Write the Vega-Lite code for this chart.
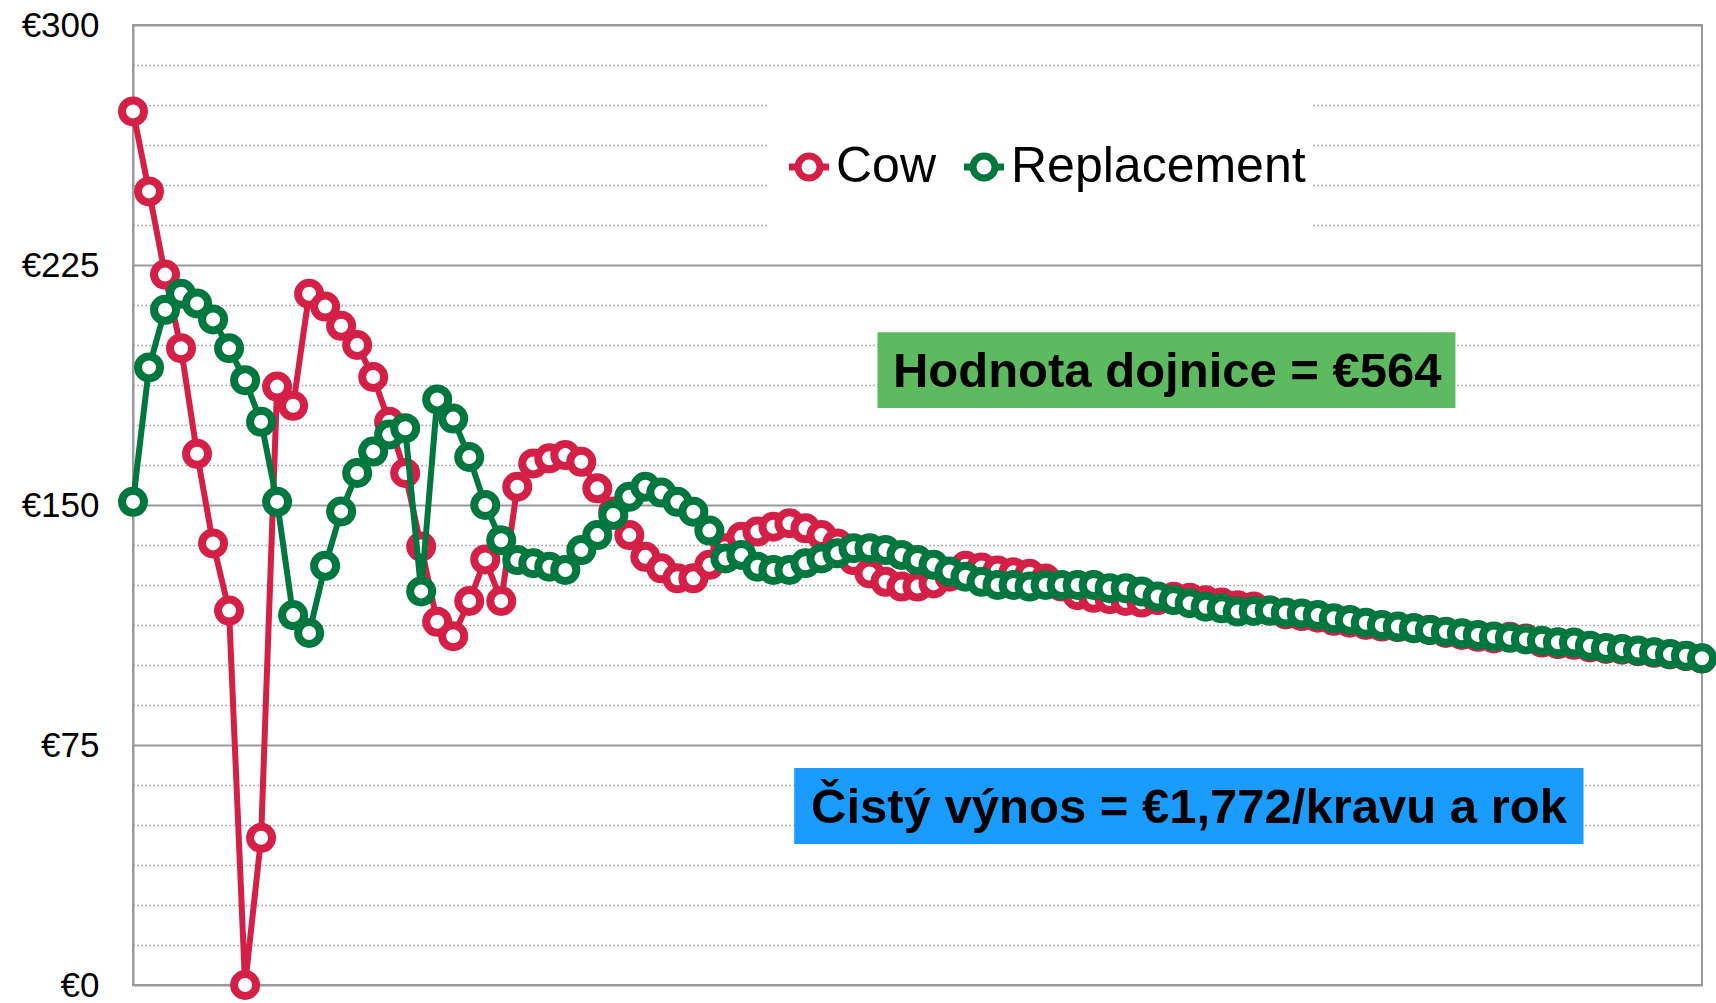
{
  "$schema": "https://vega.github.io/schema/vega-lite/v6.json",
  "width": 1569,
  "height": 960,
  "autosize": {"type": "none"},
  "padding": {"left": 133, "top": 25, "right": 14, "bottom": 18},
  "background": "white",
  "config": {
    "view": {"stroke": "#9a9a9a", "strokeWidth": 2},
    "font": "Liberation Sans"
  },
  "data": {
    "values": [
      {"m": 0, "Cow": 273, "Replacement": 151},
      {"m": 1, "Cow": 248, "Replacement": 193},
      {"m": 2, "Cow": 222, "Replacement": 211},
      {"m": 3, "Cow": 199, "Replacement": 216},
      {"m": 4, "Cow": 166, "Replacement": 213},
      {"m": 5, "Cow": 138, "Replacement": 208},
      {"m": 6, "Cow": 117, "Replacement": 199},
      {"m": 7, "Cow": 0, "Replacement": 189},
      {"m": 8, "Cow": 46, "Replacement": 176},
      {"m": 9, "Cow": 187, "Replacement": 151},
      {"m": 10, "Cow": 181, "Replacement": 115.6},
      {"m": 11, "Cow": 216, "Replacement": 110},
      {"m": 12, "Cow": 212, "Replacement": 131},
      {"m": 13, "Cow": 206, "Replacement": 148},
      {"m": 14, "Cow": 200, "Replacement": 160},
      {"m": 15, "Cow": 190, "Replacement": 166.7},
      {"m": 16, "Cow": 176, "Replacement": 172},
      {"m": 17, "Cow": 160, "Replacement": 174},
      {"m": 18, "Cow": 137, "Replacement": 123},
      {"m": 19, "Cow": 113.5, "Replacement": 183},
      {"m": 20, "Cow": 109, "Replacement": 177},
      {"m": 21, "Cow": 120, "Replacement": 165},
      {"m": 22, "Cow": 133, "Replacement": 150},
      {"m": 23, "Cow": 120, "Replacement": 139},
      {"m": 24, "Cow": 155.7, "Replacement": 132.8},
      {"m": 25, "Cow": 163, "Replacement": 131.8},
      {"m": 26, "Cow": 164.6, "Replacement": 130.7},
      {"m": 27, "Cow": 165.6, "Replacement": 129.7},
      {"m": 28, "Cow": 163.5, "Replacement": 135.9},
      {"m": 29, "Cow": 155.2, "Replacement": 140.6},
      {"m": 30, "Cow": 148, "Replacement": 146.9},
      {"m": 31, "Cow": 140.6, "Replacement": 152.6},
      {"m": 32, "Cow": 133.8, "Replacement": 155.7},
      {"m": 33, "Cow": 130.2, "Replacement": 153.9},
      {"m": 34, "Cow": 127.1, "Replacement": 151},
      {"m": 35, "Cow": 127.1, "Replacement": 147.9},
      {"m": 36, "Cow": 131.3, "Replacement": 142},
      {"m": 37, "Cow": 136.5, "Replacement": 133.3},
      {"m": 38, "Cow": 140.1, "Replacement": 134.4},
      {"m": 39, "Cow": 141.7, "Replacement": 130.7},
      {"m": 40, "Cow": 143.2, "Replacement": 129.7},
      {"m": 41, "Cow": 144.3, "Replacement": 129.7},
      {"m": 42, "Cow": 142.7, "Replacement": 131.8},
      {"m": 43, "Cow": 140.6, "Replacement": 133.3},
      {"m": 44, "Cow": 138, "Replacement": 134.9},
      {"m": 45, "Cow": 132.8, "Replacement": 136.5},
      {"m": 46, "Cow": 128.6, "Replacement": 136.5},
      {"m": 47, "Cow": 126, "Replacement": 135.9},
      {"m": 48, "Cow": 124.5, "Replacement": 134.4},
      {"m": 49, "Cow": 124.5, "Replacement": 132.8},
      {"m": 50, "Cow": 125.5, "Replacement": 131.3},
      {"m": 51, "Cow": 127.6, "Replacement": 129.2},
      {"m": 52, "Cow": 131, "Replacement": 127.6},
      {"m": 53, "Cow": 130.5, "Replacement": 126},
      {"m": 54, "Cow": 129.5, "Replacement": 125},
      {"m": 55, "Cow": 129, "Replacement": 125},
      {"m": 56, "Cow": 128.5, "Replacement": 124.5},
      {"m": 57, "Cow": 127, "Replacement": 125},
      {"m": 58, "Cow": 124.5, "Replacement": 125},
      {"m": 59, "Cow": 121.8, "Replacement": 125},
      {"m": 60, "Cow": 121, "Replacement": 125},
      {"m": 61, "Cow": 120.6, "Replacement": 124},
      {"m": 62, "Cow": 120, "Replacement": 124},
      {"m": 63, "Cow": 119.5, "Replacement": 123},
      {"m": 64, "Cow": 120.3, "Replacement": 121.4},
      {"m": 65, "Cow": 121.3, "Replacement": 120.3},
      {"m": 66, "Cow": 121, "Replacement": 119.3},
      {"m": 67, "Cow": 120.2, "Replacement": 118.2},
      {"m": 68, "Cow": 119.5, "Replacement": 117.7},
      {"m": 69, "Cow": 118.7, "Replacement": 116.7},
      {"m": 70, "Cow": 118.3, "Replacement": 116.9},
      {"m": 71, "Cow": 117, "Replacement": 117},
      {"m": 72, "Cow": 115.8, "Replacement": 116.4},
      {"m": 73, "Cow": 115.3, "Replacement": 116.1},
      {"m": 74, "Cow": 114.8, "Replacement": 115.6},
      {"m": 75, "Cow": 113.8, "Replacement": 114.6},
      {"m": 76, "Cow": 113.2, "Replacement": 114.1},
      {"m": 77, "Cow": 112.5, "Replacement": 113.2},
      {"m": 78, "Cow": 112, "Replacement": 112.5},
      {"m": 79, "Cow": 111.8, "Replacement": 112},
      {"m": 80, "Cow": 111.5, "Replacement": 111.5},
      {"m": 81, "Cow": 111, "Replacement": 110.9},
      {"m": 82, "Cow": 110, "Replacement": 110.4},
      {"m": 83, "Cow": 109.4, "Replacement": 109.9},
      {"m": 84, "Cow": 108.8, "Replacement": 109.4},
      {"m": 85, "Cow": 108.3, "Replacement": 108.9},
      {"m": 86, "Cow": 108.8, "Replacement": 108.5},
      {"m": 87, "Cow": 108.3, "Replacement": 108},
      {"m": 88, "Cow": 107, "Replacement": 107.6},
      {"m": 89, "Cow": 106.5, "Replacement": 107.1},
      {"m": 90, "Cow": 106.3, "Replacement": 107},
      {"m": 91, "Cow": 105.5, "Replacement": 106},
      {"m": 92, "Cow": 105, "Replacement": 105.3},
      {"m": 93, "Cow": 104.8, "Replacement": 105},
      {"m": 94, "Cow": 104.3, "Replacement": 104.5},
      {"m": 95, "Cow": 103.8, "Replacement": 104},
      {"m": 96, "Cow": 103.3, "Replacement": 103.4},
      {"m": 97, "Cow": 102.8, "Replacement": 102.9},
      {"m": 98, "Cow": 102, "Replacement": 102.1}
    ]
  },
  "resolve": {"axis": {"y": "independent"}},
  "layer": [
    {
      "data": {"values": [{"box": "legend"}]},
      "mark": {"type": "rect", "fill": "white"},
      "encoding": {
        "x": {"datum": 39.7, "type": "quantitative", "scale": {"domain": [0, 98], "nice": false, "zero": false}, "axis": null},
        "x2": {"datum": 73.6},
        "y": {
          "datum": 278, "type": "quantitative",
          "scale": {"domain": [0, 300], "nice": false},
          "axis": {
            "orient": "left", "title": null, "labels": false, "ticks": false, "domain": false,
            "grid": true, "gridColor": "#9a9a9a", "gridWidth": 1.5, "gridDash": [1.5, 2.5],
            "values": [12.5, 25, 37.5, 50, 62.5, 87.5, 100, 112.5, 125, 137.5, 162.5, 175, 187.5, 200, 212.5, 237.5, 250, 262.5, 275, 287.5]
          }
        },
        "y2": {"datum": 234.4}
      }
    },
    {
      "data": {"values": [{"box": "value"}]},
      "mark": {"type": "rect", "fill": "#5EBA60"},
      "encoding": {
        "x": {"datum": 46.5, "type": "quantitative"},
        "x2": {"datum": 82.6},
        "y": {"datum": 204, "type": "quantitative", "axis": null},
        "y2": {"datum": 180.3}
      }
    },
    {
      "data": {"values": [{"label": "Hodnota dojnice = €564"}]},
      "mark": {"type": "text", "font": "Liberation Sans", "fontWeight": "bold", "fontSize": 49, "color": "black", "align": "center", "baseline": "middle"},
      "encoding": {
        "x": {"datum": 64.6, "type": "quantitative"},
        "y": {"datum": 191.5, "type": "quantitative", "axis": null},
        "text": {"field": "label"}
      }
    },
    {
      "data": {"values": [{"box": "net"}]},
      "mark": {"type": "rect", "fill": "#1A9CFF"},
      "encoding": {
        "x": {"datum": 41.3, "type": "quantitative"},
        "x2": {"datum": 90.6},
        "y": {"datum": 67.8, "type": "quantitative", "axis": null},
        "y2": {"datum": 44.1}
      }
    },
    {
      "data": {"values": [{"label": "Čistý výnos = €1,772/kravu a rok"}]},
      "mark": {"type": "text", "font": "Liberation Sans", "fontWeight": "bold", "fontSize": 49, "color": "black", "align": "center", "baseline": "middle"},
      "encoding": {
        "x": {"datum": 65.96, "type": "quantitative"},
        "y": {"datum": 55.3, "type": "quantitative", "axis": null},
        "text": {"field": "label"}
      }
    },
    {
      "transform": [
        {"fold": ["Cow", "Replacement"], "as": ["series", "value"]},
        {"filter": "datum.series === 'Cow'"}
      ],
      "mark": {"type": "line", "strokeWidth": 6, "point": {"filled": false, "fill": "white", "size": 484, "strokeWidth": 8}},
      "encoding": {
        "x": {"field": "m", "type": "quantitative"},
        "y": {
          "field": "value", "type": "quantitative",
          "axis": {
            "orient": "left", "title": null, "values": [0, 75, 150, 225, 300],
            "labelExpr": "'€' + datum.value", "labelFont": "Liberation Sans", "labelFontSize": 35,
            "labelColor": "black", "labelPadding": 34, "ticks": false, "domain": true,
            "domainColor": "#9a9a9a", "domainWidth": 2,
            "grid": true, "gridColor": "#9a9a9a", "gridWidth": 2
          }
        },
        "color": {
          "field": "series", "type": "nominal",
          "scale": {"domain": ["Cow", "Replacement"], "range": ["#D41F47", "#00773E"]},
          "legend": {
            "orient": "none", "legendX": 651, "legendY": 117, "direction": "horizontal", "title": null,
            "symbolType": "M-1,0L-0.55,0M0.55,0L1,0M-0.55,0A0.55,0.55,0,1,1,0.55,0A0.55,0.55,0,1,1,-0.55,0Z",
            "symbolSize": 1600, "symbolStrokeWidth": 7, "symbolFillColor": "white",
            "labelFont": "Liberation Sans", "labelFontSize": 50, "labelColor": "black",
            "labelOffset": 2, "columnPadding": 13, "labelLimit": 0,
            "encode": {"symbols": {"update": {"fill": {"value": "white"}, "stroke": {"scale": "color", "field": "value"}, "strokeWidth": {"value": 7}, "opacity": {"value": 1}}}}
          }
        }
      }
    },
    {
      "transform": [
        {"fold": ["Cow", "Replacement"], "as": ["series", "value"]},
        {"filter": "datum.series === 'Replacement'"}
      ],
      "mark": {"type": "line", "strokeWidth": 6, "point": {"filled": false, "fill": "white", "size": 484, "strokeWidth": 8}},
      "encoding": {
        "x": {"field": "m", "type": "quantitative"},
        "y": {"field": "value", "type": "quantitative", "axis": null},
        "color": {"field": "series", "type": "nominal"}
      }
    }
  ]
}
